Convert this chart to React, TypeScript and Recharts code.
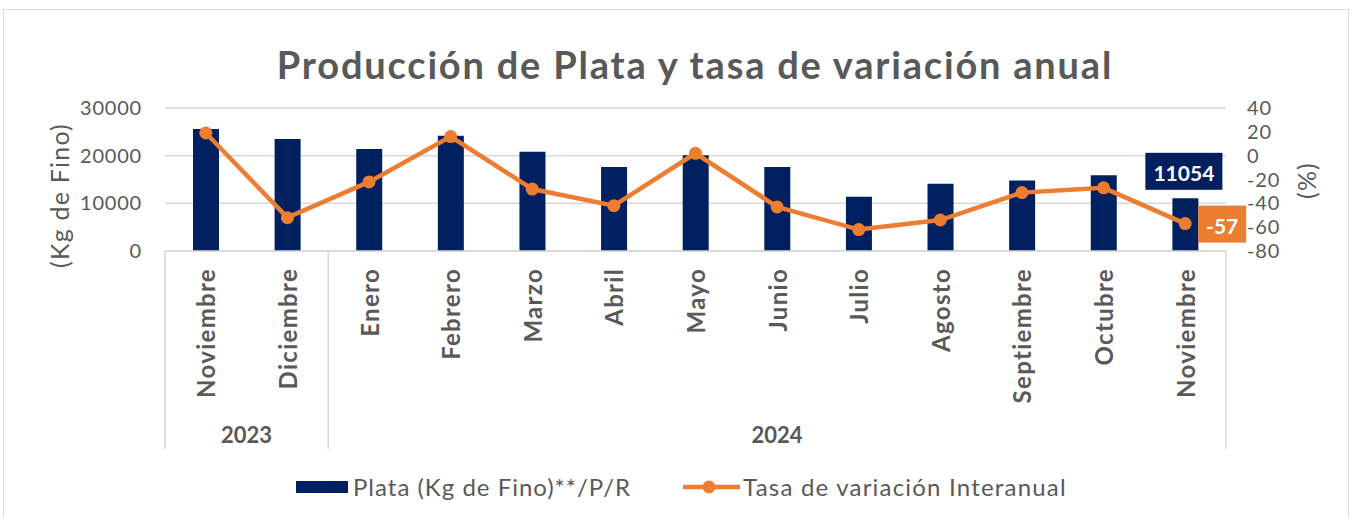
import React from 'react';
import {
  ComposedChart, Bar, Line, XAxis, YAxis, CartesianGrid, Legend, LabelList,
} from 'recharts';

document.body.style.margin = '0';

const MONTHS = [
  'Noviembre', 'Diciembre', 'Enero', 'Febrero', 'Marzo', 'Abril', 'Mayo',
  'Junio', 'Julio', 'Agosto', 'Septiembre', 'Octubre', 'Noviembre',
];
const YEARS = ['2023', '2023', '2024', '2024', '2024', '2024', '2024', '2024', '2024', '2024', '2024', '2024', '2024'];
const PLATA = [25600, 23500, 21400, 24200, 20800, 17600, 20100, 17600, 11400, 14100, 14800, 15900, 11054];
const TASA = [19, -52, -22, 16, -28, -42, 2, -43, -62, -54, -31, -27, -57];
const LEFT_TICKS = [0, 10000, 20000, 30000];
const RIGHT_TICKS = [-80, -60, -40, -20, 0, 20, 40];

const NAVY = '#002060';
const ORANGE = '#ED7D31';
const GRAY = '#595959';
const LINE_GRAY = '#d9d9d9';
const FONT = 'Lato, "Open Sans", sans-serif';

const data = MONTHS.map((m, i) => ({
  id: `${m}-${YEARS[i]}-${i}`,
  month: m,
  year: YEARS[i],
  plata: PLATA[i],
  tasa: TASA[i],
}));

const W = 1354;
const H = 517;
const LEFT_W = 165;
const RIGHT_W = 128;
const BAND = (W - LEFT_W - RIGHT_W) / MONTHS.length;

// month label + year group row + separators, all drawn from the tick position
function MonthTick(props: any) {
  const { x, y, payload } = props;
  const i: number = payload.index;
  const half: number = payload.offset || BAND / 2;
  const row = data[i];
  const isFirst = i === 0 || data[i - 1].year !== row.year;
  const isLast = i === data.length - 1;
  let groupSize = 0;
  if (isFirst) {
    for (let j = i; j < data.length && data[j].year === row.year; j++) groupSize++;
  }
  const top = y - 8;
  const ty = top + 17;
  return (
    <g>
      <text
        x={x}
        y={ty}
        transform={`rotate(-90 ${x} ${ty})`}
        textAnchor="end"
        dominantBaseline="central"
        fill={GRAY}
        fontFamily={FONT}
        fontWeight={700}
        fontSize={24}
        letterSpacing={1.3}
      >
        {row.month}
      </text>
      {isFirst && (
        <line x1={x - half} x2={x - half} y1={top} y2={top + 198} stroke={LINE_GRAY} strokeWidth={1.5} />
      )}
      {isLast && (
        <line x1={x + half} x2={x + half} y1={top} y2={top + 198} stroke={LINE_GRAY} strokeWidth={1.5} />
      )}
      {isFirst && (
        <text
          x={x - half + groupSize * half}
          y={top + 183}
          textAnchor="middle"
          dominantBaseline="central"
          fill={GRAY}
          fontFamily={FONT}
          fontWeight={700}
          fontSize={22}
        >
          {row.year}
        </text>
      )}
    </g>
  );
}

function BarValueLabel(props: any) {
  const { x, y, width, value, index } = props;
  if (index !== data.length - 1) return null;
  const cx = x + width / 2 - 1.5;
  const cy = y - 27;
  return (
    <g>
      <rect x={cx - 38.5} y={cy - 18.5} width={77} height={37} fill={NAVY} />
      <text x={cx} y={cy + 1} textAnchor="middle" dominantBaseline="central" fill="#fff"
        fontFamily={FONT} fontWeight={700} fontSize={21}>
        {value}
      </text>
    </g>
  );
}

function LineValueLabel(props: any) {
  const { x, y, value, index } = props;
  if (index !== data.length - 1) return null;
  const cx = x + 37;
  const cy = y + 0.5;
  return (
    <g>
      <rect x={cx - 24} y={cy - 18.5} width={48} height={37} fill={ORANGE} />
      <text x={cx} y={cy + 1} textAnchor="middle" dominantBaseline="central" fill="#fff"
        fontFamily={FONT} fontWeight={700} fontSize={21}>
        {value}
      </text>
    </g>
  );
}

function AxisTitle(props: any) {
  const { viewBox, value, dx, dy } = props;
  const cx = viewBox.x + dx;
  const cy = viewBox.y + viewBox.height / 2 + dy;
  return (
    <text
      x={cx}
      y={cy}
      transform={`rotate(-90 ${cx} ${cy})`}
      textAnchor="middle"
      dominantBaseline="central"
      fill={GRAY}
      fontFamily={FONT}
      fontSize={25}
      letterSpacing={1.2}
    >
      {value}
    </text>
  );
}

function LegendContent() {
  return (
    <div style={{
      display: 'flex', alignItems: 'center', fontFamily: FONT, fontSize: 24, color: GRAY,
    }}>
      <span style={{ display: 'inline-block', width: 52, height: 12, background: NAVY, marginLeft: 296 }} />
      <span style={{ marginLeft: 5, letterSpacing: 1.0 }}>Plata (Kg de Fino)**/P/R</span>
      <svg width={57} height={20} style={{ marginLeft: 52 }}>
        <line x1={0} x2={57} y1={10} y2={10} stroke={ORANGE} strokeWidth={4.5} />
        <circle cx={26} cy={10} r={6.5} fill={ORANGE} />
      </svg>
      <span style={{ marginLeft: 3, letterSpacing: 1.2 }}>Tasa de variación Interanual</span>
    </div>
  );
}

export default function App() {
  return (
    <div style={{ position: 'relative', width: W, height: H, background: '#fff', overflow: 'hidden' }}>
      <div style={{
        position: 'absolute', left: 3, top: 9, width: 1346, height: 520,
        border: `1.5px solid ${LINE_GRAY}`, boxSizing: 'border-box',
      }} />
      <div style={{
        position: 'absolute', left: 0, top: 40, width: 1390, textAlign: 'center',
        fontFamily: FONT, fontWeight: 700, fontSize: 38, letterSpacing: 1.8,
        color: GRAY, lineHeight: '48px',
      }}>
        Producción de Plata y tasa de variación anual
      </div>
      <ComposedChart
        width={W}
        height={H}
        data={data}
        margin={{ top: 108, right: 0, left: 0, bottom: 66 }}
        barSize={26}
        style={{ position: 'absolute', left: 0, top: 0 }}
      >
        <CartesianGrid yAxisId="left" vertical={false} stroke={LINE_GRAY} strokeWidth={1.5} />
        <XAxis
          dataKey="id"
          height={200}
          interval={0}
          tickLine={false}
          axisLine={{ stroke: LINE_GRAY, strokeWidth: 1.5 }}
          tick={<MonthTick />}
        />
        <YAxis
          yAxisId="left"
          width={LEFT_W}
          domain={[0, 30000]}
          ticks={LEFT_TICKS}
          interval={0}
          axisLine={false}
          tickLine={false}
          tickMargin={17}
          tick={{ fill: GRAY, fontSize: 20, fontFamily: FONT, letterSpacing: 0.8 }}
          label={<AxisTitle value="(Kg de Fino)" dx={59} dy={16} />}
        />
        <YAxis
          yAxisId="right"
          orientation="right"
          width={RIGHT_W}
          domain={[-80, 40]}
          ticks={RIGHT_TICKS}
          interval={0}
          axisLine={false}
          tickLine={false}
          tickMargin={15}
          tick={{ fill: GRAY, fontSize: 20, fontFamily: FONT, letterSpacing: 0.8 }}
          label={<AxisTitle value="(%)" dx={80} dy={1} />}
        />
        <Legend
          layout="horizontal"
          verticalAlign="middle"
          content={<LegendContent />}
          wrapperStyle={{ position: 'absolute', top: 472, left: 0, width: W }}
        />
        <Bar yAxisId="left" dataKey="plata" name="Plata (Kg de Fino)**/P/R" fill={NAVY} isAnimationActive={false}>
          <LabelList dataKey="plata" content={<BarValueLabel />} />
        </Bar>
        <Line
          yAxisId="right"
          dataKey="tasa"
          name="Tasa de variación Interanual"
          stroke={ORANGE}
          strokeWidth={4.5}
          dot={{ r: 6.5, fill: ORANGE, stroke: ORANGE, strokeWidth: 0 }}
          activeDot={false}
          isAnimationActive={false}
        >
          <LabelList dataKey="tasa" content={<LineValueLabel />} />
        </Line>
      </ComposedChart>
    </div>
  );
}
